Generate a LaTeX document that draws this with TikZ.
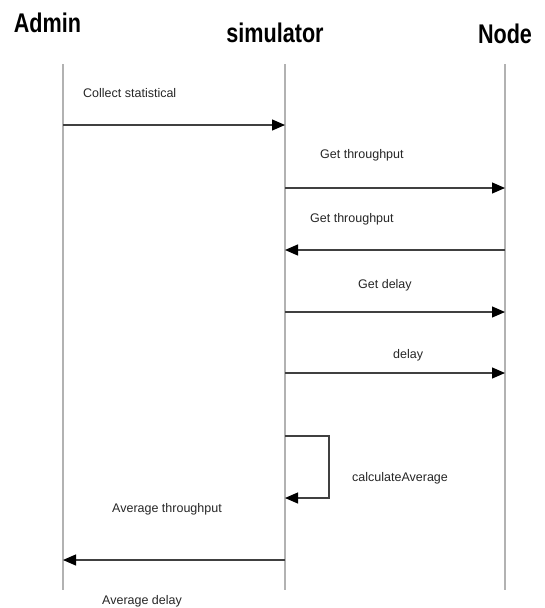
\documentclass[tikz,border=0pt]{standalone}
\usepackage{fontspec}
\setmainfont{Liberation Sans}
\newfontfamily\headfont[FakeStretch=0.8]{Liberation Sans Bold}
\usetikzlibrary{arrows.meta}

\begin{document}
\begin{tikzpicture}[x=1pt,y=-1pt,
head/.style={font=\headfont\fontsize{27}{30}\selectfont, inner sep=0pt, anchor=base},
lbl/.style={font=\fontsize{12.5}{14}\selectfont, text=black!85, inner sep=0pt, anchor=base west},
life/.style={draw=black!30, line width=1.3pt},
msg/.style={draw=black!75, line width=1.2pt, -{Triangle[length=13pt,width=11pt,color=black]}}]
\useasboundingbox (0,0) rectangle (544,608);
\node[head] (admin) at (47.5,32) {Admin};
\node[head] (sim) at (275,42) {simulator};
\node[head] (node) at (505,43) {Node};
\foreach \n/\x in {a/63,s/285,n/505} {
  \coordinate (\n0) at (\x,64);
  \coordinate (\n9) at (\x,590);
  \draw[life] (\n0) -- (\n9);
  \foreach \y [count=\i] in {125,188,250,312,373,436,498,560}
    \coordinate (\n\i) at (\x,\y);
}
\path
(a1) edge[msg] (s1)
(s2) edge[msg] (n2)
(n3) edge[msg] (s3)
(s4) edge[msg] (n4)
(s5) edge[msg] (n5)
(s8) edge[msg] (a8);
\draw[msg] (s6) -- ++(44,0) |- (s7);
\node[lbl] (collect) at (83,97) {Collect statistical};
\node[lbl] (getthr) at (320,158) {Get throughput};
\node[lbl] (getthr2) at (310,222) {Get throughput};
\node[lbl] (getdel) at (358,288) {Get delay};
\node[lbl] (del) at (393,358) {delay};
\node[lbl] (calc) at (352,481) {calculateAverage};
\node[lbl] (avgthr) at (112,512) {Average throughput};
\node[lbl] (avgdel) at (102,604) {Average delay};
\end{tikzpicture}
\end{document}
